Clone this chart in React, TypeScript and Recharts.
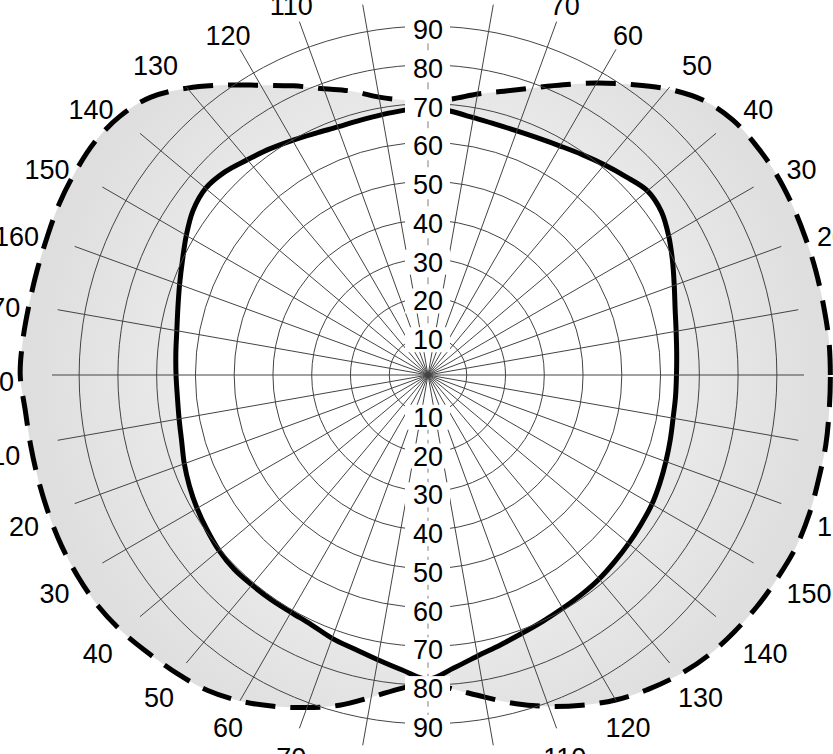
import React from 'react';
import { RadarChart, Radar, PolarGrid, PolarAngleAxis, PolarRadiusAxis } from 'recharts';

// angle in degrees, counter-clockwise from the right-hand horizontal
const ANGLES = [
  0, 5, 10, 15, 20, 25, 30, 35, 40, 45, 50, 55, 60, 65, 70, 75, 80, 85,
  90, 95, 100, 105, 110, 115, 120, 125, 130, 135, 140, 145, 150, 155, 160, 165, 170, 175,
  180, 185, 190, 195, 200, 205, 210, 215, 220, 225, 230, 235, 240, 245, 250, 255, 260, 265,
  270, 275, 280, 285, 290, 295, 300, 305, 310, 315, 320, 325, 330, 335, 340, 345, 350, 355,
];

// solid curve
const INNER = [
  64.1, 64.4, 65.0, 66.0, 67.6, 69.6, 71.7, 73.5, 73.9, 72.3, 70.8, 69.4, 68.2, 67.4, 67.0, 67.0, 67.4, 68.3,
  69.5, 68.6, 68.2, 68.0, 68.1, 68.8, 69.9, 71.2, 72.5, 74.1, 74.9, 74.0, 72.0, 69.9, 68.2, 66.8, 65.8, 65.3,
  65.0, 64.9, 65.2, 65.8, 66.9, 67.9, 68.8, 69.6, 70.4, 70.8, 70.7, 70.7, 70.7, 71.1, 72.3, 73.2, 74.6, 76.4,
  78.5, 75.9, 73.6, 72.1, 70.9, 70.1, 69.5, 69.1, 68.7, 68.1, 67.6, 67.1, 66.7, 66.0, 65.3, 64.7, 64.2, 64.1,
];

// dashed curve
const OUTER = [
  103.8, 103.8, 103.6, 103.6, 103.6, 103.7, 103.7, 103.3, 102.5, 100.3, 96.3, 91.5, 87.0, 82.6, 78.8, 75.8, 73.6, 71.5,
  70.8, 71.2, 72.8, 75.8, 78.6, 82.3, 86.3, 91.3, 96.6, 101.3, 103.8, 104.9, 105.0, 104.9, 104.5, 104.4, 104.5, 104.9,
  105.2, 104.3, 104.1, 104.1, 104.2, 104.3, 104.2, 103.9, 103.0, 101.7, 100.6, 99.3, 97.1, 94.3, 91.3, 88.2, 84.4, 81.2,
  79.5, 81.5, 84.4, 87.8, 91.0, 94.0, 96.8, 99.0, 100.9, 102.3, 103.1, 103.8, 104.3, 104.8, 104.7, 104.3, 104.2, 103.9,
];

const RADIUS_TICKS = [10, 20, 30, 40, 50, 60, 70, 80, 90];
const SPOKES = [
  0, 10, 20, 30, 40, 50, 60, 70, 80, 100, 110, 120, 130, 140, 150, 160, 170,
  180, 190, 200, 210, 220, 230, 240, 250, 260, 280, 290, 300, 310, 320, 330, 340, 350,
];

const data = ANGLES.map((angle, i) => ({ angle, inner: INNER[i], outer: OUTER[i] }));

const W = 833;
const H = 754;
const CX = 428;
const CY = 375;
const R = 376;
const RMAX = 97;
const STEP = 5; // Radar adds one band to each point's angle
const FONT = '"Liberation Sans", Arial, Helvetica, sans-serif';
const FS = 27;

const chartProps = {
  width: W,
  height: H,
  data,
  cx: CX,
  cy: CY,
  outerRadius: R,
  startAngle: -STEP,
  endAngle: 360 - STEP,
  margin: { top: 0, right: 0, bottom: 0, left: 0 },
};

const layer: React.CSSProperties = { position: 'absolute', left: 0, top: 0 };

// closed Catmull-Rom curve through the radar points
const SmoothShape = (props: any) => {
  const pts = props.points || [];
  const n = pts.length;
  if (!n) return <g />;
  const t = 1 / 6;
  let d = `M${pts[0].x},${pts[0].y}`;
  for (let i = 0; i < n; i++) {
    const p0 = pts[(i - 1 + n) % n];
    const p1 = pts[i];
    const p2 = pts[(i + 1) % n];
    const p3 = pts[(i + 2) % n];
    const c1x = p1.x + (p2.x - p0.x) * t;
    const c1y = p1.y + (p2.y - p0.y) * t;
    const c2x = p2.x - (p3.x - p1.x) * t;
    const c2y = p2.y - (p3.y - p1.y) * t;
    d += ` C${c1x},${c1y} ${c2x},${c2y} ${p2.x},${p2.y}`;
  }
  d += ' Z';
  return (
    <path
      d={d}
      fill={props.fill}
      fillOpacity={props.fillOpacity}
      stroke={props.stroke}
      strokeWidth={props.strokeWidth}
      strokeDasharray={props.strokeDasharray}
      strokeLinejoin="round"
    />
  );
};

const AngleTick = (props: any) => {
  const a = Number(props.payload?.value);
  if (a % 10 !== 0) return <g />;
  const label = a <= 180 ? a : a - 180;
  const rad = (a * Math.PI) / 180;
  const c = Math.cos(rad);
  const s = Math.sin(rad);
  // labels hang outward from their inner edge at the sides
  const side = Math.min(1, Math.max(0, (Math.abs(c) - 0.5) / 0.3));
  const halfW = (String(label).length * FS * 0.556) / 2;
  const base = 400 + 14 * Math.min(1, Math.max(0, (Math.abs(c) - 0.5) / 0.27));
  return (
    <text
      x={CX + base * c + Math.sign(c) * halfW * side}
      y={CY + 7 - (base + 10 * side) * s}
      textAnchor="middle"
      dominantBaseline="central"
      fontFamily={FONT}
      fontSize={FS}
      fill="#000"
    >
      {label}
    </text>
  );
};

const RadiusTick = (props: any) => {
  const { x, y, payload } = props;
  return (
    <g>
      <rect x={x - 23} y={y - 9} width={45} height={25} fill="#fff" />
      <text
        x={x}
        y={y + 4}
        textAnchor="middle"
        dominantBaseline="central"
        fontFamily={FONT}
        fontSize={FS}
        fill="#000"
      >
        {payload.value}
      </text>
    </g>
  );
};

const hiddenRadius = (
  <PolarRadiusAxis
    domain={[0, RMAX]}
    allowDataOverflow
    ticks={RADIUS_TICKS}
    tick={false}
    axisLine={false}
  />
);

export default function App() {
  return (
    <div style={{ position: 'absolute', left: 0, top: 0, width: W, height: H, overflow: 'hidden', background: '#fff' }}>
      <svg width={0} height={0} style={{ position: 'absolute' }}>
        <defs>
          <radialGradient id="bandFill" gradientUnits="userSpaceOnUse" cx={CX} cy={CY} r={415}>
            <stop offset="0.55" stopColor="#ebebeb" />
            <stop offset="1" stopColor="#dddddd" />
          </radialGradient>
        </defs>
      </svg>

      <div style={layer}>
        <RadarChart {...chartProps}>
          <PolarAngleAxis dataKey="angle" tick={false} axisLine={false} tickLine={false} />
          {hiddenRadius}
          <Radar
            dataKey="outer"
            stroke="#000"
            strokeWidth={5}
            strokeDasharray="30 15"
            fill="url(#bandFill)"
            fillOpacity={1}
            shape={<SmoothShape />}
            dot={false}
            isAnimationActive={false}
          />
          <Radar
            dataKey="inner"
            stroke="#000"
            strokeWidth={5}
            fill="#fff"
            fillOpacity={1}
            shape={<SmoothShape />}
            dot={false}
            isAnimationActive={false}
          />
        </RadarChart>
      </div>

      <div style={layer}>
        <RadarChart {...chartProps}>
          <PolarGrid gridType="circle" polarAngles={SPOKES} stroke="#444" strokeWidth={1} />
          <PolarAngleAxis dataKey="angle" tick={<AngleTick />} axisLine={false} tickLine={false} />
          {hiddenRadius}
          <Radar dataKey="inner" stroke="none" fill="none" dot={false} isAnimationActive={false} />
        </RadarChart>
      </div>

      <div style={layer}>
        <RadarChart {...chartProps}>
          <PolarAngleAxis dataKey="angle" tick={false} axisLine={false} tickLine={false} />
          <PolarRadiusAxis
            angle={90}
            domain={[0, RMAX]}
            allowDataOverflow
            ticks={RADIUS_TICKS}
            tick={<RadiusTick />}
            tickLine={false}
            axisLine={{ stroke: '#aaa', strokeWidth: 1.5, strokeDasharray: '7 6' }}
          />
          <Radar dataKey="inner" stroke="none" fill="none" dot={false} isAnimationActive={false} />
        </RadarChart>
      </div>

      <div style={layer}>
        <RadarChart {...chartProps}>
          <PolarAngleAxis dataKey="angle" tick={false} axisLine={false} tickLine={false} />
          <PolarRadiusAxis
            angle={270}
            domain={[0, RMAX]}
            allowDataOverflow
            ticks={RADIUS_TICKS}
            tick={<RadiusTick />}
            tickLine={false}
            axisLine={{ stroke: '#aaa', strokeWidth: 1.5, strokeDasharray: '7 6' }}
          />
          <Radar dataKey="inner" stroke="none" fill="none" dot={false} isAnimationActive={false} />
        </RadarChart>
      </div>
    </div>
  );
}
